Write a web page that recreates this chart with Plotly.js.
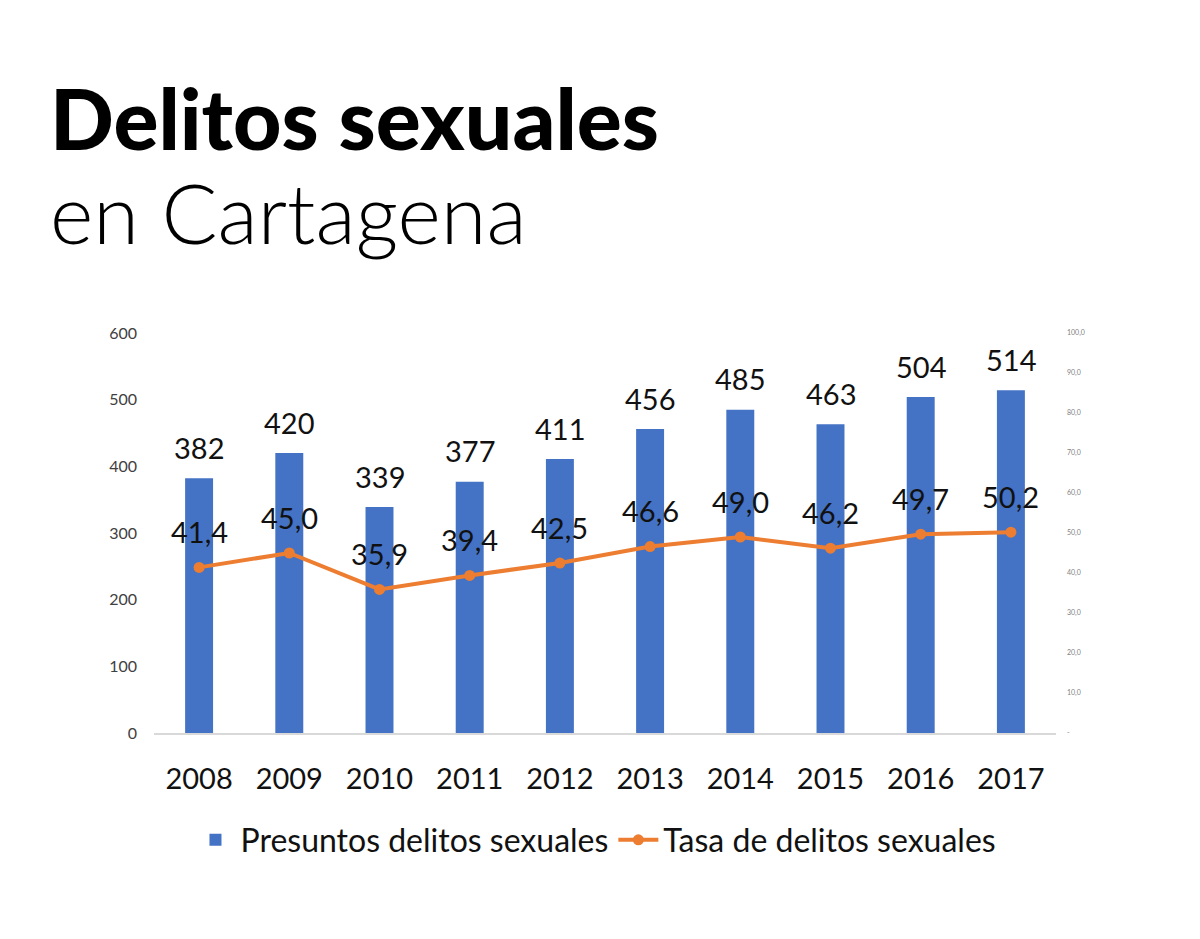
<!DOCTYPE html>
<html>
<head>
<meta charset="utf-8">
<script src="https://cdn.plot.ly/plotly-3.0.1.min.js"></script>
<style>
  html, body { margin: 0; padding: 0; background: #ffffff; }
  #chart { width: 1200px; height: 939px; }
</style>
</head>
<body>
<div id="chart"></div>
<script>
// ---- Data ----
const years = ["2008", "2009", "2010", "2011", "2012", "2013", "2014", "2015", "2016", "2017"];
const presuntos = [382, 420, 339, 377, 411, 456, 485, 463, 504, 514];
const tasa = [41.4, 45.0, 35.9, 39.4, 42.5, 46.6, 49.0, 46.2, 49.7, 50.2];
const leftTicks = [0, 100, 200, 300, 400, 500, 600];
const rightTickVals = [0, 10, 20, 30, 40, 50, 60, 70, 80, 90, 100];
const rightTickText = ["-", "10,0", "20,0", "30,0", "40,0", "50,0", "60,0", "70,0", "80,0", "90,0", "100,0"];
const titleMain = "Delitos sexuales";
const titleSub = "en Cartagena";
const seriesNames = ["Presuntos delitos sexuales", "Tasa de delitos sexuales"];

// ---- Layout geometry ----
const W = 1200, H = 939;
const M = { l: 154, r: 144, t: 333, b: 206 };
const plotW = W - M.l - M.r, plotH = H - M.t - M.b;
const px2x = (px) => (px - M.l) / plotW;
const py2y = (py) => (H - M.b - py) / plotH;

const FAM = "Lato, 'Open Sans', sans-serif";
const numFont = () => ({ family: FAM, size: 29, color: "#111111" });
const fmt = (v) => v.toFixed(1).replace(".", ",");

const annotations = [];
years.forEach((yr, i) => {
  // category axis: annotation x given as the category's serial index
  annotations.push({
    x: i, y: presuntos[i], xref: "x", yref: "y",
    text: String(presuntos[i]), showarrow: false,
    yshift: 31, xanchor: "center", yanchor: "middle", font: numFont()
  });
  annotations.push({
    x: i, y: tasa[i], xref: "x", yref: "y2",
    text: fmt(tasa[i]), showarrow: false,
    yshift: 36, xanchor: "center", yanchor: "middle", font: numFont()
  });
});
annotations.push({
  xref: "paper", yref: "paper", x: px2x(48), y: py2y(117),
  xanchor: "left", yanchor: "middle", showarrow: false,
  text: titleMain,
  font: { family: FAM, size: 84, color: "#000000", weight: 900 }
});
annotations.push({
  xref: "paper", yref: "paper", x: px2x(48), y: py2y(212),
  xanchor: "left", yanchor: "middle", showarrow: false,
  text: titleSub,
  font: { family: FAM, size: 83, color: "#000000", weight: 300 }
});

const traces = [
  {
    type: "bar", x: years, y: presuntos, name: seriesNames[0],
    marker: { color: "#4472C4" }, width: 0.31, yaxis: "y",
    hoverinfo: "skip"
  },
  {
    type: "scatter", mode: "lines+markers", x: years, y: tasa, name: seriesNames[1],
    line: { color: "#ED7D31", width: 4 },
    marker: { color: "#ED7D31", size: 11 },
    yaxis: "y2", hoverinfo: "skip"
  }
];

const layout = {
  width: W, height: H,
  margin: M,
  paper_bgcolor: "#ffffff", plot_bgcolor: "#ffffff",
  showlegend: true,
  legend: {
    orientation: "h", x: 0.49, xanchor: "center", y: py2y(840), yanchor: "middle",
    font: { family: FAM, size: 32, color: "#111111" },
    traceorder: "normal", itemwidth: 40
  },
  xaxis: {
    type: "category", range: [-0.5, 9.5],
    showgrid: false, zeroline: false,
    showline: true, linecolor: "#d9d9d9", linewidth: 1.5,
    ticks: "", ticklabelstandoff: 20,
    tickfont: { family: FAM, size: 29, color: "#111111" },
    fixedrange: true
  },
  yaxis: {
    range: [0, 600], tickvals: leftTicks,
    showgrid: false, zeroline: false, showline: false,
    ticks: "", ticklabelstandoff: 16,
    tickfont: { family: FAM, size: 16, color: "#404040" },
    fixedrange: true
  },
  yaxis2: {
    overlaying: "y", side: "right",
    range: [0, 100], tickvals: rightTickVals, ticktext: rightTickText,
    showgrid: false, zeroline: false, showline: false,
    ticks: "", ticklabelstandoff: 10,
    tickfont: { family: FAM, size: 7, color: "#7f7f7f" },
    fixedrange: true
  },
  annotations: annotations,
  hovermode: false
};

Plotly.newPlot("chart", traces, layout, { displayModeBar: false, staticPlot: true });
</script>
</body>
</html>
